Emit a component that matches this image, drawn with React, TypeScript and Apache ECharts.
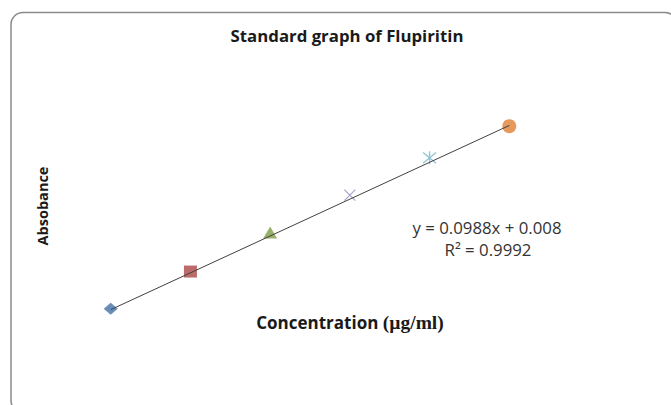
import React, { useEffect, useRef } from "react";
import * as echarts from "echarts";

const concentrations = [2, 4, 6, 8, 10, 12];
const absorbance = [0.21, 0.41, 0.62, 0.82, 1.02, 1.19];
const markerSymbols = [
  "diamond",
  "rect",
  "triangle",
  "path://M0,0L10,10M10,0L0,10",
  "path://M0,0L10,10M10,0L0,10M5,-1L5,11",
  "circle",
];
const markerColors = ["#4270A8", "#AA4643", "#7E9E45", "#9b8cbf", "#6fb8cc", "#DE7F33"];
const slope = 0.0988;
const intercept = 0.008;
const titleText = "Standard graph of Flupiritin";
const xLabel = "Concentration ";
const xUnit = "(µg/ml)";
const yLabel = "Absobance";
const eqText = "y = 0.0988x + 0.008";
const r2Text = "R² = 0.9992";

export default function App() {
  const ref = useRef<HTMLDivElement>(null);
  useEffect(() => {
    if (!ref.current) return;
    const chart = echarts.init(ref.current, undefined, { renderer: "svg" });
    const sizes: any[] = [[14, 12], [13, 12], [14, 12], 11, 13, 14];
    const pointSeries = concentrations.map((c, i) => {
      const isLine = i === 3 || i === 4;
      return {
        type: "scatter",
        data: [[c, absorbance[i]]],
        symbol: markerSymbols[i],
        symbolSize: sizes[i],
        itemStyle: isLine
          ? { color: "rgba(0,0,0,0)", borderColor: markerColors[i], borderWidth: 1.3 }
          : { color: markerColors[i] },
        z: 3,
      };
    });
    const xs = [concentrations[0], concentrations[concentrations.length - 1]];
    chart.setOption({
      animation: false,
      grid: { left: 31, right: 82, top: 87, bottom: 57 },
      xAxis: { type: "value", min: 0, max: 14, show: false },
      yAxis: { type: "value", min: 0, max: 1.4, show: false },
      series: [
        {
          type: "line",
          data: xs.map((x) => [x, slope * x + intercept]),
          symbol: "none",
          lineStyle: { color: "#404040", width: 1 },
          z: 4,
        },
        ...pointSeries,
      ],
      graphic: [
        {
          type: "rect",
          shape: { x: 11, y: 12.5, width: 666, height: 400, r: 12 },
          style: { fill: "none", stroke: "#8a8a8a", lineWidth: 1.5 },
          silent: true,
        },
        {
          type: "text",
          x: 347,
          y: 35,
          style: {
            text: titleText,
            font: "bold 16.8px 'Open Sans'",
            fill: "#1a1a1a",
            textAlign: "center",
            textVerticalAlign: "middle",
          },
        },
        {
          type: "text",
          x: 42,
          y: 206,
          rotation: Math.PI / 2,
          style: {
            text: yLabel,
            font: "bold 14.5px 'Open Sans'",
            fill: "#1a1a1a",
            textAlign: "center",
            textVerticalAlign: "middle",
          },
        },
        {
          type: "text",
          x: 350,
          y: 322,
          style: {
            text: `{a|${xLabel}}{b|${xUnit}}`,
            textAlign: "center",
            textVerticalAlign: "middle",
            rich: {
              a: { font: "bold 17px 'Open Sans'", fill: "#1a1a1a", color: "#1a1a1a" },
              b: { font: "bold 19.5px 'Liberation Serif'", fill: "#1a1a1a", color: "#1a1a1a" },
            },
          },
        },
        {
          type: "text",
          x: 487,
          y: 227,
          style: {
            text: eqText,
            font: "16.8px 'Open Sans'",
            fill: "#333",
            textAlign: "center",
            textVerticalAlign: "middle",
          },
        },
        {
          type: "text",
          x: 488,
          y: 249,
          style: {
            text: r2Text,
            font: "16.8px 'Open Sans'",
            fill: "#333",
            textAlign: "center",
            textVerticalAlign: "middle",
          },
        },
      ],
    });
    return () => chart.dispose();
  }, []);
  return (
    <div
      ref={ref}
      style={{ position: "fixed", left: 0, top: 0, width: 671, height: 405, background: "#fff" }}
    />
  );
}
